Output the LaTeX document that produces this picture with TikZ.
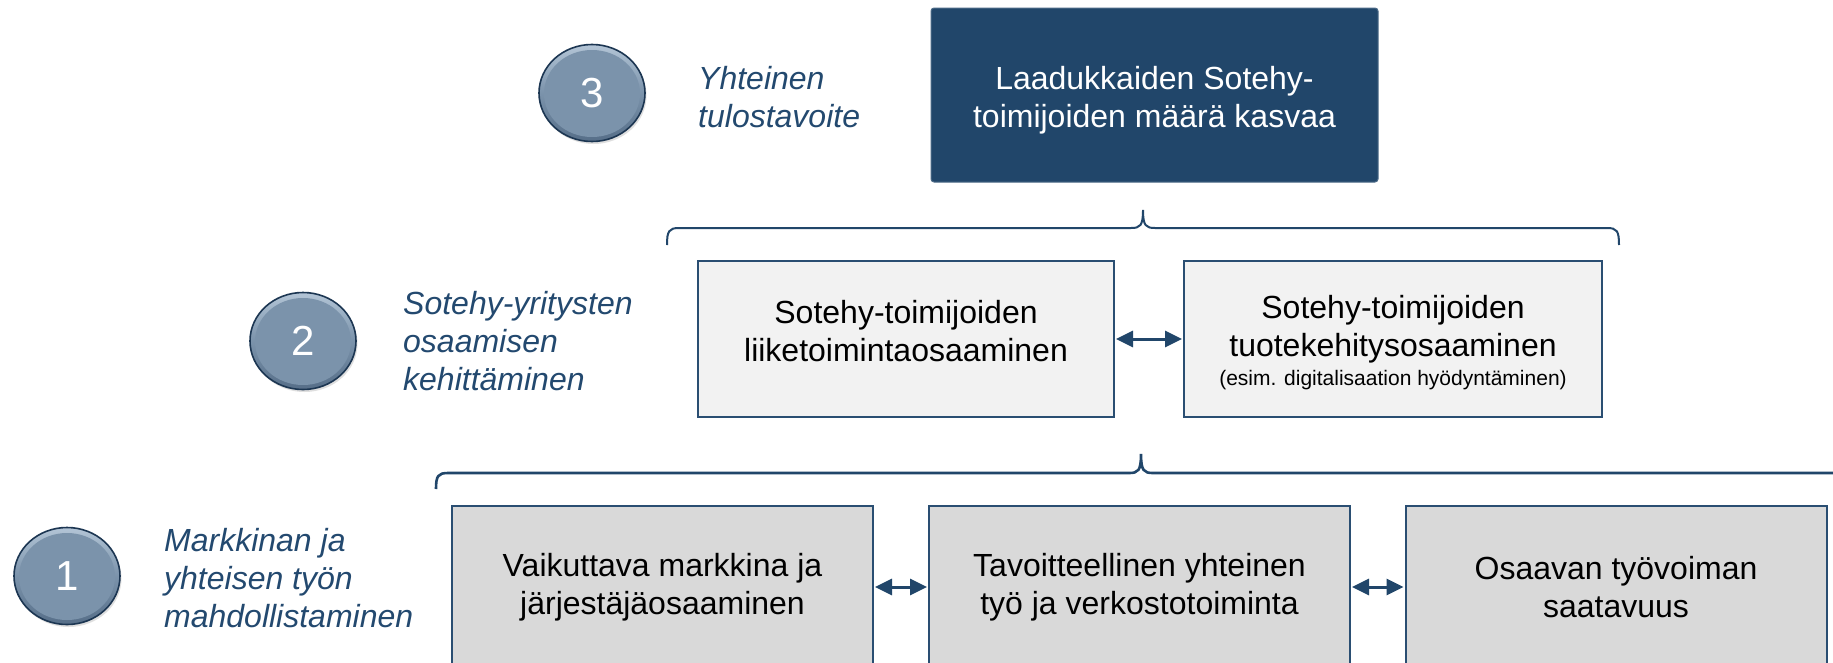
\documentclass[tikz,border=0pt]{standalone}
\usepackage{fontspec}
\setmainfont{Liberation Sans}
\usetikzlibrary{arrows.meta,shadows,shapes.geometric}
\definecolor{navy}{HTML}{21466A}
\definecolor{lbl}{HTML}{23496F}
\definecolor{edge}{HTML}{2A4E72}
\definecolor{rim}{HTML}{1C3652}
\definecolor{lvltwo}{HTML}{F2F2F2}
\definecolor{lvlone}{HTML}{D9D9D9}
\definecolor{balltop}{HTML}{B3C5D6}
\definecolor{ballmid}{HTML}{7B93AB}
\definecolor{ballbot}{HTML}{566E88}
\newcommand{\shiftedlines}[2]{\raisebox{#1}[\height][\depth]{\begin{tabular}{@{}c@{}}#2\end{tabular}}}
\tikzset{
  goalbox/.style={draw=navy!80!white, line width=1pt, fill=navy, rounded corners=3pt, text=white,
    minimum width=447pt, minimum height=174pt, inner sep=0pt, align=center,
    font=\fontsize{32}{38}\selectfont},
  midbox/.style={draw=edge, line width=2pt, fill=lvltwo, text=black,
    minimum height=156pt, inner sep=0pt, align=center, font=\fontsize{32}{38}\selectfont},
  lowbox/.style={draw=edge, line width=2pt, fill=lvlone, text=black,
    minimum width=421pt, minimum height=162pt, inner sep=0pt, align=center, font=\fontsize{32}{38}\selectfont},
  ball/.style={ellipse, minimum width=106pt, minimum height=97pt, inner sep=0pt,
    draw=rim, line width=1.6pt, top color=balltop, bottom color=ballbot, middle color=ballmid,
    path picture={\fill[ballmid] ([yshift=-0.5pt]path picture bounding box.center) ellipse (48pt and 43.5pt);},
    text=white, font=\fontsize{42}{42}\selectfont,
    drop shadow={opacity=0.25, shadow xshift=1.5pt, shadow yshift=-2.5pt}},
  levellabel/.style={anchor=west, align=left, text=lbl, inner sep=0pt,
    font=\fontsize{32}{38}\selectfont\itshape},
  dblarrow/.style={{Triangle[length=17pt,width=16pt]}-{Triangle[length=17pt,width=16pt]}, draw=navy, line width=3pt, shorten <=1pt, shorten >=1pt},
  bracket/.style={draw=navy, line width=2pt}
}
\begin{document}
\begin{tikzpicture}[x=1pt,y=-1pt]
\clip (0,0) rectangle (1833,662);
\fill[white] (0,0) rectangle (1833,662);

% level 3
\node[ball] (c3) at (592,93) {3};
\node[levellabel] (l3) at (698,97) {Yhteinen\\tulostavoite};
\node[goalbox] (goal) at (1154.5,95) {\shiftedlines{-6pt}{Laadukkaiden Sotehy-\\toimijoiden määrä kasvaa}};

% upper bracket
\draw[bracket] (667,245) .. controls (667,231) and (669,228) .. (679,228) -- (1131,228)
  .. controls (1140,228) and (1143,226) .. (1143,210)
  .. controls (1143,226) and (1146,228) .. (1155,228) -- (1607,228)
  .. controls (1617,228) and (1619,231) .. (1619,245);

% level 2
\node[ball] (c2) at (303,341) {2};
\node[levellabel] (l2) at (403,341) {Sotehy-yritysten\\osaamisen\\kehittäminen};
\node[midbox, minimum width=416pt] (ba) at (906,339) {\shiftedlines{4pt}{Sotehy-toimijoiden\\liiketoimintaosaaminen}};
\node[midbox, minimum width=418pt] (bb) at (1393,339) {\shiftedlines{-5pt}{Sotehy-toimijoiden\\tuotekehitysosaaminen\\[-9pt]{\fontsize{21}{26}\selectfont (esim. digitalisaation hyödyntäminen)}}};
\draw[dblarrow] (ba.east) -- (bb.west);

% lower bracket
\draw[bracket, line width=2.6pt] (436,489) .. controls (436,476) and (438,473) .. (448,473) -- (1129,473)
  .. controls (1138,473) and (1141,471) .. (1141,454)
  .. controls (1141,471) and (1144,473) .. (1153,473) -- (1850,473);

% level 1
\node[ball] (c1) at (67,576) {1};
\node[levellabel] (l1) at (164,578) {Markkinan ja\\yhteisen työn\\mahdollistaminen};
\node[lowbox] (bc) at (662.5,587) {Vaikuttava markkina ja\\järjestäjäosaaminen};
\node[lowbox] (bd) at (1139.5,587) {Tavoitteellinen yhteinen\\työ ja verkostotoiminta};
\node[lowbox] (be) at (1616,587) {Osaavan työvoiman\\saatavuus};
\draw[dblarrow] (bc.east) -- (bd.west);
\draw[dblarrow] (bd.east) -- (be.west);
\end{tikzpicture}
\end{document}
